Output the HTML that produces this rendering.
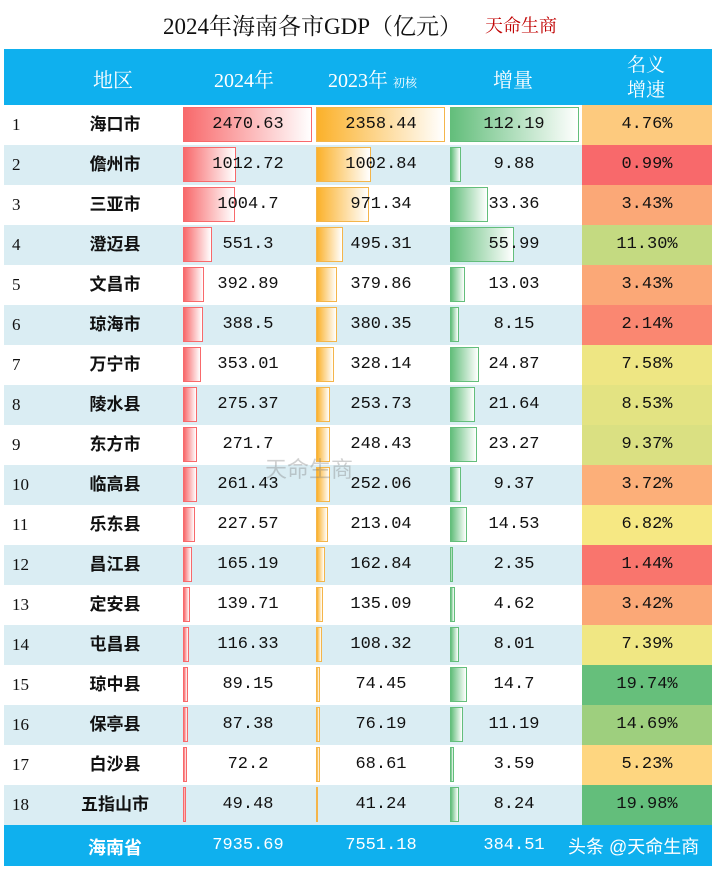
<!DOCTYPE html>
<html><head><meta charset="utf-8"><style>
body{margin:0;width:716px;height:870px;background:#fff;position:relative;overflow:hidden;font-family:"Liberation Serif","Noto Serif CJK SC",serif;}
.t{position:absolute;white-space:nowrap;}
.row{position:absolute;left:4px;width:708px;height:40px;}
.c{position:absolute;top:0;height:40px;line-height:40px;text-align:center;font-size:17px;color:#111;font-family:"Liberation Mono",monospace;}
.bar{position:absolute;top:2px;height:35px;box-sizing:border-box;}
.f{position:absolute;top:825px;height:41px;line-height:41px;text-align:center;font-size:17px;color:#fff;font-family:"Liberation Mono",monospace;}
</style></head><body>
<div class="t" style="left:163px;top:8px;font-size:23px;color:#111;">2024年海南各市GDP（亿元）</div>
<div class="t" style="left:485px;top:12px;font-size:18px;color:#c00000;">天命生商</div>
<div style="position:absolute;left:4px;top:49px;width:708px;height:56px;background:#0fb0ee;"></div>
<div class="t" style="left:93px;top:64px;font-size:20px;color:#fff;">地区</div>
<div class="t" style="left:214px;top:64px;font-size:20px;color:#fff;">2024年</div>
<div class="t" style="left:328px;top:64px;font-size:20px;color:#fff;">2023年 <span style="font-size:12px;">初核</span></div>
<div class="t" style="left:493px;top:64px;font-size:20px;color:#fff;">增量</div>
<div class="t" style="left:627px;top:53px;font-size:19px;color:#fff;line-height:25px;text-align:center;">名义<br>增速</div>
<div id="rows"></div>
<div style="position:absolute;left:4px;top:825px;width:708px;height:41px;background:#0fb0ee;"></div>
<div class="t" style="left:88px;top:834px;font-size:18px;color:#fff;font-family:'Liberation Sans','Noto Sans CJK SC',sans-serif;font-weight:bold;">海南省</div>
<div class="f" style="left:182px;width:132px;">7935.69</div>
<div class="f" style="left:315px;width:132px;">7551.18</div>
<div class="f" style="left:448px;width:132px;">384.51</div>
<div class="t" style="left:568px;top:833px;font-size:18px;color:#fff;font-family:'Liberation Sans','Noto Sans CJK SC',sans-serif;">头条 @天命生商</div>
<div class="t" style="left:265px;top:452px;font-size:22px;color:rgba(120,120,120,0.35);font-family:'Liberation Sans','Noto Sans CJK SC',sans-serif;">天命生商</div>
<script>
var d=[["海口市",2470.63,2358.44,112.19,4.76],["儋州市",1012.72,1002.84,9.88,0.99],["三亚市",1004.7,971.34,33.36,3.43],["澄迈县",551.3,495.31,55.99,11.30],["文昌市",392.89,379.86,13.03,3.43],["琼海市",388.5,380.35,8.15,2.14],["万宁市",353.01,328.14,24.87,7.58],["陵水县",275.37,253.73,21.64,8.53],["东方市",271.7,248.43,23.27,9.37],["临高县",261.43,252.06,9.37,3.72],["乐东县",227.57,213.04,14.53,6.82],["昌江县",165.19,162.84,2.35,1.44],["定安县",139.71,135.09,4.62,3.42],["屯昌县",116.33,108.32,8.01,7.39],["琼中县",89.15,74.45,14.7,19.74],["保亭县",87.38,76.19,11.19,14.69],["白沙县",72.2,68.61,3.59,5.23],["五指山市",49.48,41.24,8.24,19.98]];
function mix(a,b,t){return 'rgb('+a.map((v,i)=>Math.round(v+(b[i]-v)*t)).join(',')+')';}
var R=[248,105,107],Y=[255,235,132],G=[99,190,123],mn=0.99,md=6.025,mx=19.98;
function col(v){return v<=md?mix(R,Y,(v-mn)/(md-mn)):mix(Y,G,(v-md)/(mx-md));}
var h='';
d.forEach(function(r,i){
 var top=105+i*40,bg=i%2?'#daedf3':'#fff';
 var w1=r[1]/2470.63*129,w2=r[2]/2358.44*129,w3=r[3]/112.19*129;
 h+='<div class="row" style="top:'+top+'px;background:'+bg+'">'+
 '<div class="c" style="left:8px;width:30px;text-align:left;font-family:\'Liberation Serif\',serif;">'+(i+1)+'</div>'+
 '<div class="c" style="left:56px;width:110px;font-family:\'Liberation Sans\',\'Noto Sans CJK SC\',sans-serif;font-weight:bold;font-size:17px;">'+r[0]+'</div>'+
 '<div class="bar" style="left:179px;width:'+w1+'px;background:linear-gradient(90deg,#f8696b,#fff);border:1px solid #f8696b;"></div>'+
 '<div class="bar" style="left:312px;width:'+w2+'px;background:linear-gradient(90deg,#fbb12a,#fff);border:1px solid #f4b54a;"></div>'+
 '<div class="bar" style="left:446px;width:'+w3+'px;background:linear-gradient(90deg,#63be7b,#fff);border:1px solid #63be7b;"></div>'+
 '<div class="c" style="left:178px;width:132px;">'+r[1]+'</div>'+
 '<div class="c" style="left:311px;width:132px;">'+r[2]+'</div>'+
 '<div class="c" style="left:444px;width:132px;">'+r[3]+'</div>'+
 '<div class="c" style="left:578px;width:130px;background:'+col(r[4])+';">'+r[4].toFixed(2)+'%</div>'+
 '</div>';
});
document.getElementById('rows').innerHTML=h;
</script>
</body></html>
